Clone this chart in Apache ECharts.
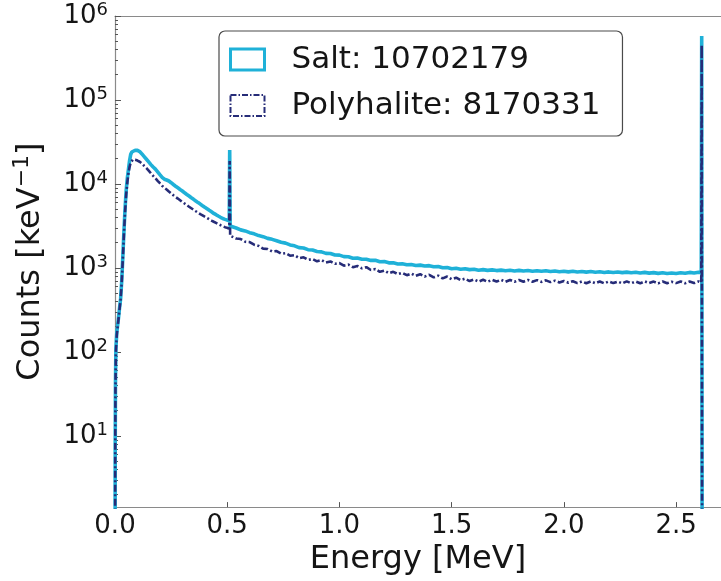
<!DOCTYPE html>
<html>
<head>
<meta charset="utf-8">
<script src="https://cdn.jsdelivr.net/npm/echarts@6/dist/echarts.min.js"></script>
<style>
  html, body { margin: 0; padding: 0; background: #ffffff; }
  #chart { width: 721px; height: 581px; }
</style>
</head>
<body>
<div id="chart"></div>
<script>
// Energy bin positions [MeV]
const energy = [
  0, 0.001, 0.002, 0.004, 0.008, 0.012, 0.016, 0.020, 0.025, 0.030,
  0.035, 0.040, 0.045, 0.050, 0.055, 0.060, 0.065, 0.070, 0.075, 0.080,
  0.09, 0.10, 0.11, 0.12, 0.13, 0.14, 0.15, 0.16, 0.17, 0.18,
  0.19, 0.20, 0.21, 0.22, 0.23, 0.24, 0.25, 0.26, 0.27, 0.28,
  0.29, 0.30, 0.31, 0.32, 0.33, 0.34, 0.35, 0.36, 0.37, 0.38,
  0.39, 0.40, 0.41, 0.42, 0.43, 0.44, 0.45, 0.46, 0.47, 0.48,
  0.49, 0.50, 0.509, 0.511, 0.513,
  0.52, 0.54, 0.56, 0.58, 0.60, 0.62, 0.64, 0.66, 0.68, 0.70,
  0.72, 0.74, 0.76, 0.78, 0.80, 0.82, 0.84, 0.86, 0.88, 0.90,
  0.92, 0.94, 0.96, 0.98, 1.00, 1.02, 1.04, 1.06, 1.08, 1.10,
  1.12, 1.14, 1.16, 1.18, 1.20, 1.22, 1.24, 1.26, 1.28, 1.30,
  1.32, 1.34, 1.36, 1.38, 1.40, 1.42, 1.44, 1.46, 1.48, 1.50,
  1.52, 1.54, 1.56, 1.58, 1.60, 1.62, 1.64, 1.66, 1.68, 1.70,
  1.72, 1.74, 1.76, 1.78, 1.80, 1.82, 1.84, 1.86, 1.88, 1.90,
  1.92, 1.94, 1.96, 1.98, 2.00, 2.02, 2.04, 2.06, 2.08, 2.10,
  2.12, 2.14, 2.16, 2.18, 2.20, 2.22, 2.24, 2.26, 2.28, 2.30,
  2.32, 2.34, 2.36, 2.38, 2.40, 2.42, 2.44, 2.46, 2.48, 2.50,
  2.52, 2.54, 2.56, 2.58, 2.60, 2.612, 2.614, 2.616
];

// Counts per keV, salt sample
const salt = [
  0.1, 8, 40, 110, 170, 210, 260, 330, 430, 700,
  1380, 2800, 5200, 8500, 11800, 15000, 19000, 22500, 24000, 24800,
  25200, 25100, 24300, 22800, 21200, 19700, 18300, 17000, 15900, 15000,
  13900, 12900, 12000, 11400, 11150, 10850, 10350, 9850, 9400, 9000,
  8600, 8250, 7850, 7500, 7180, 6850, 6560, 6270, 6000, 5760,
  5500, 5270, 5060, 4850, 4660, 4460, 4310, 4150, 4010, 3880,
  3790, 3710, 3660, 25300, 3160,
  3100, 2990, 2840, 2760, 2630, 2550, 2430, 2360, 2250, 2190,
  2110, 2020, 1975, 1880, 1835, 1745, 1725, 1650, 1635, 1570,
  1555, 1490, 1485, 1425, 1420, 1365, 1360, 1305, 1310, 1270,
  1270, 1230, 1235, 1185, 1190, 1150, 1150, 1115, 1120, 1090,
  1100, 1070, 1080, 1055, 1065, 1035, 1040, 1005, 1010, 980,
  990, 965, 980, 955, 965, 940, 955, 935, 948, 930,
  942, 925, 940, 920, 935, 918, 932, 915, 928, 912,
  925, 908, 920, 903, 915, 898, 912, 895, 908, 892,
  905, 890, 900, 884, 897, 882, 894, 880, 892, 878,
  890, 872, 885, 868, 880, 862, 876, 858, 872, 860,
  878, 865, 885, 870, 888, 875, 578000, 0.1
];

// Counts per keV, polyhalite sample
const polyhalite = [
  0.1, 7, 35, 100, 160, 200, 250, 320, 420, 680,
  1300, 2600, 4700, 7600, 10500, 13500, 16000, 18000, 19000, 19500,
  19400, 19000, 18400, 17500, 16400, 15400, 14400, 13400, 12500, 11700,
  10900, 10200, 9500, 9000, 8600, 8150, 7750, 7350, 7000, 6700,
  6400, 6100, 5850, 5600, 5360, 5140, 4930, 4730, 4540, 4370,
  4230, 4080, 3940, 3800, 3670, 3550, 3440, 3330, 3230, 3140,
  3060, 3000, 2960, 18800, 2420,
  2390, 2240, 2210, 2050, 2030, 1890, 1830, 1700, 1680, 1570,
  1590, 1480, 1500, 1400, 1420, 1310, 1340, 1250, 1275, 1200,
  1240, 1160, 1195, 1120, 1145, 1065, 1095, 1020, 1055, 990,
  1020, 945, 970, 900, 930, 865, 900, 845, 875, 820,
  858, 805, 842, 790, 828, 772, 808, 752, 790, 735,
  765, 718, 745, 698, 728, 688, 722, 686, 722, 688,
  722, 685, 720, 684, 718, 686, 720, 684, 716, 682,
  712, 678, 705, 672, 700, 668, 695, 660, 690, 658,
  690, 658, 688, 656, 690, 660, 688, 655, 692, 658,
  690, 656, 692, 660, 688, 655, 690, 658, 686, 660,
  690, 656, 688, 660, 692, 668, 452000, 0.1
];

const seriesNames = ['Salt: 10702179', 'Polyhalite: 8170331'];
const xTicks = [0, 0.5, 1.0, 1.5, 2.0, 2.5];
const yMajorTicks = [10, 100, 1000, 10000, 100000, 1000000];
const yMinorTicks = [
  2, 3, 4, 5, 6, 7, 8, 9,
  20, 30, 40, 50, 60, 70, 80, 90,
  200, 300, 400, 500, 600, 700, 800, 900,
  2000, 3000, 4000, 5000, 6000, 7000, 8000, 9000,
  20000, 30000, 40000, 50000, 60000, 70000, 80000, 90000,
  200000, 300000, 400000, 500000, 600000, 700000, 800000, 900000
];

const FONT = 'DejaVu Sans';
const TEXT = '#151515';
const SPINE = '#8a8a8a';
const TICK = '#555555';
const SALT_COLOR = '#1fb1d8';
const POLY_COLOR = '#262c78';

const pairs = (xs, ys) => xs.map((x, i) => [x, ys[i]]);

const chart = echarts.init(document.getElementById('chart'), null, { renderer: 'canvas' });

chart.setOption({
  animation: false,
  backgroundColor: '#ffffff',
  grid: { left: 115, top: 16, width: 610, height: 493 },
  legend: {
    orient: 'vertical',
    left: 219,
    top: 31,
    padding: [13, 22, 15, 10],
    itemGap: 15,
    itemWidth: 34,
    itemHeight: 21,
    backgroundColor: '#ffffff',
    borderColor: '#4a4a4a',
    borderWidth: 1.2,
    borderRadius: 6,
    textStyle: { fontFamily: FONT, fontSize: 31, color: TEXT, padding: [0, 0, 0, 22] },
    data: [
      { name: seriesNames[0], icon: 'rect',
        itemStyle: { color: 'rgba(0,0,0,0)', borderColor: SALT_COLOR, borderWidth: 3 } },
      { name: seriesNames[1], icon: 'rect',
        itemStyle: { color: 'rgba(0,0,0,0)', borderColor: POLY_COLOR, borderWidth: 2, borderType: [6, 2, 1.5, 2] } }
    ]
  },
  xAxis: [
    {
      type: 'value', min: 0, max: 2.7, interval: 0.5, position: 'bottom',
      axisLine: { onZero: false, lineStyle: { color: SPINE, width: 1.2 } },
      axisTick: { inside: true, length: 5, customValues: xTicks, lineStyle: { color: TICK } },
      axisLabel: { customValues: xTicks, formatter: v => v.toFixed(1), fontFamily: FONT, fontSize: 26, color: TEXT, margin: 6 },
      splitLine: { show: false },
      name: 'Energy [MeV]', nameLocation: 'middle', nameGap: 31,
      nameTextStyle: { fontFamily: FONT, fontSize: 32, color: TEXT }
    },
    {
      type: 'value', min: 0, max: 2.7, position: 'top',
      axisLine: { show: true, onZero: false, lineStyle: { color: SPINE, width: 1.2 } },
      axisTick: { show: false }, axisLabel: { show: false }, splitLine: { show: false }
    }
  ],
  yAxis: [
    {
      type: 'log', logBase: 10, min: 1.42, max: 1000000, position: 'left',
      axisLine: { show: true, onZero: false, lineStyle: { color: SPINE, width: 1.2 } },
      axisTick: { inside: true, length: 6, customValues: yMajorTicks, lineStyle: { color: TICK } },
      axisLabel: {
        customValues: yMajorTicks, margin: 7,
        formatter: v => '{b|10}{s|' + Math.round(Math.log10(v)) + '}',
        rich: {
          b: { fontFamily: FONT, fontSize: 26, color: TEXT, lineHeight: 30 },
          s: { fontFamily: FONT, fontSize: 18, color: TEXT, lineHeight: 18, verticalAlign: 'top' }
        }
      },
      splitLine: { show: false },
      name: 'Counts [keV{s|−1}]', nameLocation: 'middle', nameRotate: 90, nameGap: 64,
      nameTextStyle: {
        fontFamily: FONT, fontSize: 32, color: TEXT, lineHeight: 40,
        rich: { s: { fontFamily: FONT, fontSize: 22, color: TEXT, lineHeight: 22, verticalAlign: 'top' } }
      }
    },
    {
      type: 'log', logBase: 10, min: 1.42, max: 1000000, position: 'left',
      axisLine: { show: false },
      axisTick: { inside: true, length: 3, customValues: yMinorTicks, lineStyle: { color: TICK } },
      axisLabel: { show: false }, splitLine: { show: false }
    }
  ],
  series: [
    {
      name: seriesNames[0], type: 'line', xAxisIndex: 0, yAxisIndex: 0,
      data: pairs(energy, salt), symbol: 'none', clip: true,
      lineStyle: { color: SALT_COLOR, width: 3.6 }, itemStyle: { color: SALT_COLOR }, z: 2
    },
    {
      name: seriesNames[1], type: 'line', xAxisIndex: 0, yAxisIndex: 0,
      data: pairs(energy, polyhalite), symbol: 'none', clip: true,
      lineStyle: { color: POLY_COLOR, width: 2.6, type: [7, 2.5, 2, 2.5] }, itemStyle: { color: POLY_COLOR }, z: 3
    }
  ]
});
</script>
</body>
</html>
